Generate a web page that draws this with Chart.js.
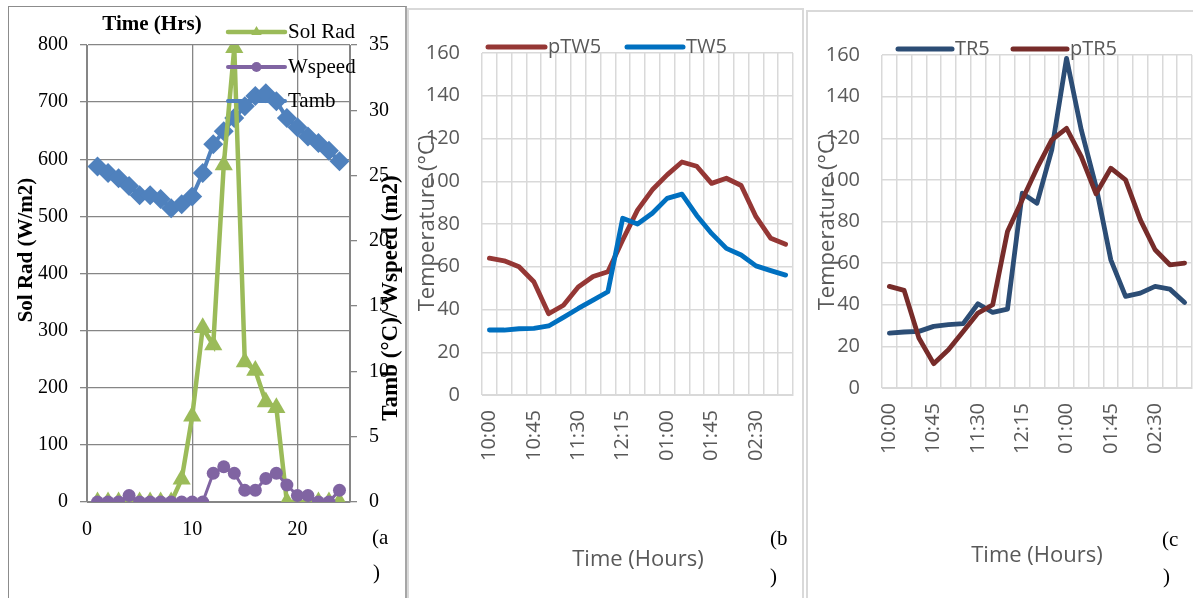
<!DOCTYPE html>
<html>
<head>
<meta charset="utf-8">
<script src="https://cdn.jsdelivr.net/npm/chart.js@4.4.1/dist/chart.umd.min.js"></script>
<style>
  html, body { margin: 0; padding: 0; background: #fff; }
  body { width: 1193px; height: 598px; position: relative; overflow: hidden; }
  .frame { position: absolute; box-sizing: border-box; }
  .wrap { position: absolute; top: 0; height: 598px; }
</style>
</head>
<body>
<div class="frame" style="left:8px;top:6px;width:399px;height:600px;border-left:1px solid #8c8c8c;border-top:1px solid #8c8c8c;border-right:2px solid #a6a6a6;"></div>
<div class="frame" style="left:407px;top:8px;width:397px;height:600px;border-left:2px solid #d9d9d9;border-top:2px solid #d9d9d9;border-right:2px solid #d9d9d9;"></div>
<div class="frame" style="left:806px;top:10px;width:400px;height:600px;border-left:2px solid #d9d9d9;border-top:2px solid #d9d9d9;"></div>

<div class="wrap" style="left:0;width:405px;"><canvas id="chartA"></canvas></div>
<div class="wrap" style="left:406px;width:397px;"><canvas id="chartB"></canvas></div>
<div class="wrap" style="left:807px;width:386px;"><canvas id="chartC"></canvas></div>

<script>
/* ---------- data: (a) hourly weather ---------- */
const hours  = [1, 2, 3, 4, 5, 6, 7, 8, 9, 10, 11, 12, 13, 14, 15, 16, 17, 18, 19, 20, 21, 22, 23, 24];
const solRad = [0, 0, 0, 0, 0, 0, 0, 0, 40, 150, 305, 275, 590, 795, 245, 230, 175, 165, 0, 0, 0, 0, 0, 0];
const wspeed = [0, 0, 0, 0.5, 0, 0, 0, 0, 0, 0, 0, 2.2, 2.7, 2.2, 0.9, 0.9, 1.8, 2.2, 1.3, 0.5, 0.5, 0, 0, 0.9];
const tamb   = [25.7, 25.2, 24.8, 24.2, 23.5, 23.5, 23.2, 22.5, 22.8, 23.4, 25.2, 27.4,
                28.4, 29.4, 30.3, 31.1, 31.3, 30.7, 29.4, 28.7, 28.0, 27.5, 26.9, 26.1];

/* ---------- data: (b) and (c) temperatures ---------- */
const timeLabels = ['10:00', '10:15', '10:30', '10:45', '11:00', '11:15', '11:30', '11:45', '12:00', '12:15', '12:30',
                    '12:45', '01:00', '01:15', '01:30', '01:45', '02:00', '02:15', '02:30', '02:45', '03:00'];
const pTW5 = [64, 62.8, 60, 53, 38, 42, 50.5, 55.4, 57.7, 72.5, 86.5, 96, 103, 109, 107, 99, 101.4, 98, 83.4, 73.3, 70.5];
const TW5  = [30.4, 30.4, 31, 31.2, 32.3, 36.3, 40.5, 44.4, 48.3, 82.7, 80, 85, 92, 94, 84, 75.6, 68.6, 65.5, 60.4, 58.2, 56.1];
const TR5  = [26.4, 26.9, 27.2, 29.6, 30.4, 30.9, 40.5, 36.3, 37.9, 93.6, 88.8, 114.4, 158.4, 124, 96.8, 61.6, 44, 45.6, 48.8, 47.5, 41.1];
const pTR5 = [48.8, 46.9, 24, 11.7, 18.4, 27.2, 36, 40, 75.2, 90.4, 105.6, 119.2, 124.8, 111.2, 93.3, 105.6, 100, 80.8, 66.4, 59.2, 60];

const SERIF = "'Liberation Serif', 'Times New Roman', serif";
const SANS = "'Open Sans', 'Noto Sans', sans-serif";
const GREY_TXT = '#595959';

/* free text: titles, axis titles and panel letters */
const freeTextPlugin = {
    id: 'freeText',
    afterDraw(chart, args, opts) {
        const ctx = chart.ctx;
        (opts.items || []).forEach(t => {
            ctx.save();
            ctx.font = t.font;
            ctx.fillStyle = t.color || '#000';
            ctx.textAlign = t.align || 'center';
            ctx.textBaseline = 'middle';
            ctx.translate(t.x, t.y);
            if (t.rotate) ctx.rotate(t.rotate * Math.PI / 180);
            ctx.fillText(t.text, 0, 0);
            ctx.restore();
        });
    }
};

/* legend drawn as line samples at fixed spots (Excel style) */
const lineLegendPlugin = {
    id: 'lineLegend',
    afterDraw(chart, args, opts) {
        const ctx = chart.ctx;
        (opts.items || []).forEach(it => {
            const ds = chart.data.datasets[it.index];
            ctx.save();
            ctx.strokeStyle = ds.borderColor;
            ctx.lineWidth = it.lineWidth;
            ctx.lineCap = 'round';
            ctx.beginPath();
            ctx.moveTo(it.x1, it.y);
            ctx.lineTo(it.x2, it.y);
            ctx.stroke();

            if (it.marker) {
                const cx = (it.x1 + it.x2) / 2, r = it.marker;
                ctx.fillStyle = ds.backgroundColor;
                ctx.beginPath();
                if (ds.pointStyle === 'triangle') {
                    ctx.moveTo(cx, it.y - r);
                    ctx.lineTo(cx + r * 0.87, it.y + r * 0.5);
                    ctx.lineTo(cx - r * 0.87, it.y + r * 0.5);
                } else if (ds.pointStyle === 'rectRot') {
                    ctx.moveTo(cx, it.y - r);
                    ctx.lineTo(cx + r, it.y);
                    ctx.lineTo(cx, it.y + r);
                    ctx.lineTo(cx - r, it.y);
                } else {
                    ctx.arc(cx, it.y, r, 0, Math.PI * 2);
                }
                ctx.closePath();
                ctx.fill();
            }

            ctx.font = it.font;
            ctx.fillStyle = it.color || '#000';
            ctx.textAlign = 'left';
            ctx.textBaseline = 'middle';
            ctx.fillText(ds.label, it.textX, it.y);
            ctx.restore();
        });
    }
};

// fixed axis boxes so the plot areas land where the picture has them
function fixWidth(w) {
    return scale => { scale.width = w; scale.paddingTop = 0; scale.paddingBottom = 0; };
}
function fixHeight(h) {
    return scale => { scale.height = h; scale.paddingLeft = 0; scale.paddingRight = 0; };
}

/* ---------- (a) ---------- */
const toXY = (xs, ys) => xs.map((x, i) => ({ x: x, y: ys[i] }));

new Chart(document.getElementById('chartA'), {
    type: 'scatter',
    data: {
        datasets: [
            {
                label: 'Sol Rad',
                data: toXY(hours, solRad),
                yAxisID: 'y',
                showLine: true,
                borderColor: '#9BBB59',
                backgroundColor: '#9BBB59',
                borderWidth: 4.5,
                pointStyle: 'triangle',
                pointRadius: 10.5,
                pointBorderWidth: 0,
                order: 1
            },
            {
                label: 'Wspeed',
                data: toXY(hours, wspeed),
                yAxisID: 'y2',
                showLine: true,
                borderColor: '#8064A2',
                backgroundColor: '#8064A2',
                borderWidth: 3,
                pointStyle: 'circle',
                pointRadius: 6.5,
                pointBorderWidth: 0,
                order: 0
            },
            {
                label: 'Tamb',
                data: toXY(hours, tamb),
                yAxisID: 'y2',
                showLine: true,
                borderColor: '#4F81BD',
                backgroundColor: '#4F81BD',
                borderWidth: 4,
                pointStyle: 'rectRot',
                pointRadius: 10,
                pointBorderWidth: 0,
                order: 2
            }
        ]
    },
    options: {
        responsive: true,
        maintainAspectRatio: false,
        animation: false,
        layout: { padding: { top: 45, left: 0, right: 0, bottom: 0 } },
        plugins: {
            legend: { display: false },
            tooltip: { enabled: false },
            freeText: {
                items: [
                    { text: 'Time (Hrs)', x: 152, y: 25, font: 'bold 21px ' + SERIF },
                    { text: 'Sol Rad (W/m2)', x: 27, y: 250, rotate: -90, font: 'bold 21px ' + SERIF },
                    { text: 'Tamb (°C)/ Wspeed (m2)', x: 391, y: 298, rotate: -90, font: 'bold 23px ' + SERIF },
                    { text: '(a', x: 372, y: 538, align: 'left', font: '21px ' + SERIF },
                    { text: ')', x: 373, y: 573, align: 'left', font: '21px ' + SERIF }
                ]
            },
            lineLegend: {
                items: [
                    { index: 0, x1: 228, x2: 285, y: 32, textX: 288, lineWidth: 4.5, marker: 6, font: '21px ' + SERIF },
                    { index: 1, x1: 228, x2: 285, y: 67, textX: 288, lineWidth: 4, marker: 5, font: '21px ' + SERIF },
                    { index: 2, x1: 228, x2: 285, y: 101, textX: 288, lineWidth: 4, marker: 0, font: '21px ' + SERIF }
                ]
            }
        },
        scales: {
            x: {
                type: 'linear',
                min: 0,
                max: 25,
                afterFit: fixHeight(96),
                ticks: {
                    stepSize: 10,
                    padding: 16,
                    color: '#000',
                    font: { family: SERIF, size: 20 },
                    callback: v => (v % 10 === 0 ? v : '')
                },
                grid: { color: '#868686', lineWidth: 1.3, drawTicks: false },
                border: { display: true, color: '#868686', lineWidth: 1.3 }
            },
            y: {
                position: 'left',
                min: 0,
                max: 800,
                afterFit: fixWidth(87),
                ticks: { stepSize: 100, padding: 12, color: '#000', font: { family: SERIF, size: 20 } },
                grid: { color: '#868686', lineWidth: 1.3, drawTicks: true, tickLength: 7 },
                border: { display: true, color: '#868686', lineWidth: 1.3 }
            },
            y2: {
                position: 'right',
                min: 0,
                max: 35,
                afterFit: fixWidth(55),
                ticks: { stepSize: 5, padding: 12, color: '#000', font: { family: SERIF, size: 20 } },
                grid: { drawOnChartArea: false, color: '#868686', lineWidth: 1.3, drawTicks: true, tickLength: 7 },
                border: { display: true, color: '#868686', lineWidth: 1.3 }
            }
        }
    },
    plugins: [freeTextPlugin, lineLegendPlugin]
});

/* ---------- (b) and (c) share one layout ---------- */
function temperatureChart(canvasId, series, box, texts, legendItems) {
    new Chart(document.getElementById(canvasId), {
        type: 'line',
        data: {
            labels: timeLabels,
            datasets: series.map(s => ({
                label: s.label,
                data: s.data,
                borderColor: s.color,
                backgroundColor: s.color,
                borderWidth: 4.8,
                borderCapStyle: 'round',
                borderJoinStyle: 'round',
                pointRadius: 0,
                tension: 0,
                order: s.order
            }))
        },
        options: {
            responsive: true,
            maintainAspectRatio: false,
            animation: false,
            layout: { padding: { top: box.top, left: 0, right: box.right, bottom: 0 } },
            plugins: {
                legend: { display: false },
                tooltip: { enabled: false },
                freeText: { items: texts },
                lineLegend: { items: legendItems }
            },
            scales: {
                x: {
                    type: 'category',
                    offset: true,
                    afterFit: fixHeight(box.xHeight),
                    ticks: {
                        autoSkip: false,
                        minRotation: 90,
                        maxRotation: 90,
                        padding: 15,
                        color: GREY_TXT,
                        font: { family: SANS, size: 20 },
                        callback: (v, i) => (i % 3 === 0 ? timeLabels[i] : '')
                    },
                    grid: { offset: true, color: '#d9d9d9', lineWidth: 1.5, drawTicks: false },
                    border: { display: true, color: '#d9d9d9', lineWidth: 1.5 }
                },
                y: {
                    min: 0,
                    max: 160,
                    afterFit: fixWidth(box.yWidth),
                    ticks: { stepSize: 20, padding: 22, color: GREY_TXT, font: { family: SANS, size: 20 } },
                    grid: { color: '#d9d9d9', lineWidth: 1.5, drawTicks: false },
                    border: { display: false }
                }
            }
        },
        plugins: [freeTextPlugin, lineLegendPlugin]
    });
}

temperatureChart('chartB',
    [
        { label: 'pTW5', data: pTW5, color: '#953735', order: 1 },
        { label: 'TW5', data: TW5, color: '#0070C0', order: 0 }
    ],
    { top: 53, right: 10, yWidth: 76, xHeight: 203 },
    [
        { text: 'Temperature (°C)', x: 22, y: 223, rotate: -90, color: GREY_TXT, font: '22px ' + SANS },
        { text: 'Time (Hours)', x: 232, y: 560, color: GREY_TXT, font: '22px ' + SANS },
        { text: '(b', x: 364, y: 539, align: 'left', font: '21px ' + SERIF },
        { text: ')', x: 364, y: 577, align: 'left', font: '21px ' + SERIF }
    ],
    [
        { index: 0, x1: 82, x2: 139, y: 47, textX: 142, lineWidth: 5, color: GREY_TXT, font: '20px ' + SANS },
        { index: 1, x1: 221, x2: 277, y: 47, textX: 280, lineWidth: 5, color: GREY_TXT, font: '20px ' + SANS }
    ]
);

temperatureChart('chartC',
    [
        { label: 'TR5', data: TR5, color: '#2C4D75', order: 1 },
        { label: 'pTR5', data: pTR5, color: '#772C2A', order: 0 }
    ],
    { top: 55, right: 1, yWidth: 75, xHeight: 210 },
    [
        { text: 'Temperature (°C)', x: 21, y: 222, rotate: -90, color: GREY_TXT, font: '22px ' + SANS },
        { text: 'Time (Hours)', x: 230, y: 556, color: GREY_TXT, font: '22px ' + SANS },
        { text: '(c', x: 355, y: 540, align: 'left', font: '21px ' + SERIF },
        { text: ')', x: 356, y: 577, align: 'left', font: '21px ' + SERIF }
    ],
    [
        { index: 0, x1: 91, x2: 145, y: 49, textX: 148, lineWidth: 5, color: GREY_TXT, font: '20px ' + SANS },
        { index: 1, x1: 206, x2: 260, y: 49, textX: 263, lineWidth: 5, color: GREY_TXT, font: '20px ' + SANS }
    ]
);
</script>
</body>
</html>
